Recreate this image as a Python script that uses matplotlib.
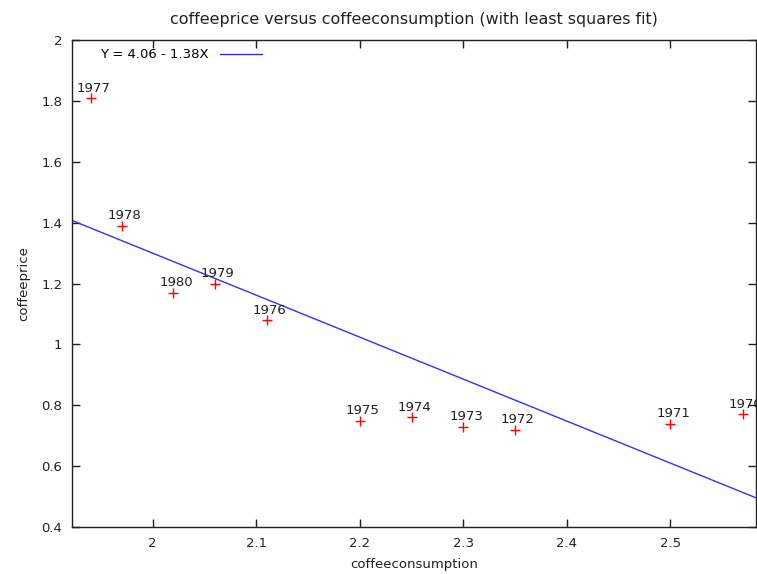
import matplotlib
matplotlib.use('Agg')
import matplotlib.pyplot as plt
from matplotlib.ticker import FormatStrFormatter, MultipleLocator

# data
years = ['1970', '1971', '1972', '1973', '1974', '1975', '1976', '1977', '1978', '1979', '1980']
consumption = [2.57, 2.50, 2.35, 2.30, 2.25, 2.20, 2.11, 1.94, 1.97, 2.06, 2.02]
price = [0.77, 0.74, 0.72, 0.73, 0.76, 0.75, 1.08, 1.81, 1.39, 1.20, 1.17]
intercept = 4.06
slope = -1.38
xlim = (1.922, 2.583)
ylim = (0.4, 2.0)

plt.rcParams['font.family'] = ['DejaVu Sans']
plt.rcParams['font.size'] = 9.5

fig = plt.figure(figsize=(7.57, 5.74), dpi=100)
ax = fig.add_axes([0.0951, 0.0819, 0.904, 0.848])

ax.plot(consumption, price, linestyle='none', marker='+', color='red',
        markersize=7, markeredgewidth=1)
for yr, x, y in zip(years, consumption, price):
    ax.annotate(yr, (x, y), xytext=(2, 2.5), textcoords='offset points',
                ha='center', va='bottom', color='#202020')

fx = list(xlim)
fy = [intercept + slope * v for v in fx]
line, = ax.plot(fx, fy, color='#3030ff', linewidth=1)

ax.set_xlim(xlim)
ax.set_ylim(ylim)
ax.xaxis.set_major_locator(MultipleLocator(0.1))
ax.yaxis.set_major_locator(MultipleLocator(0.2))
ax.xaxis.set_major_formatter(FormatStrFormatter('%g'))
ax.yaxis.set_major_formatter(FormatStrFormatter('%g'))
ax.tick_params(direction='in', top=True, right=True, length=6, width=1,
               pad=7, colors='#202020')
for s in ax.spines.values():
    s.set_color('#202020')
    s.set_linewidth(1)

ax.set_xlabel('coffeeconsumption', color='#202020', labelpad=6)
ax.set_ylabel('coffeeprice', color='#202020', labelpad=8)
ax.set_title('coffeeprice versus coffeeconsumption (with least squares fit)',
             color='#202020', pad=12)

leg = ax.legend([line], ['Y = 4.06 - 1.38X'], loc='upper left', frameon=False,
                markerfirst=False, handlelength=3.2, borderaxespad=0.2,
                bbox_to_anchor=(0.03, 1.0))

fig.savefig('out.png', dpi=100)
